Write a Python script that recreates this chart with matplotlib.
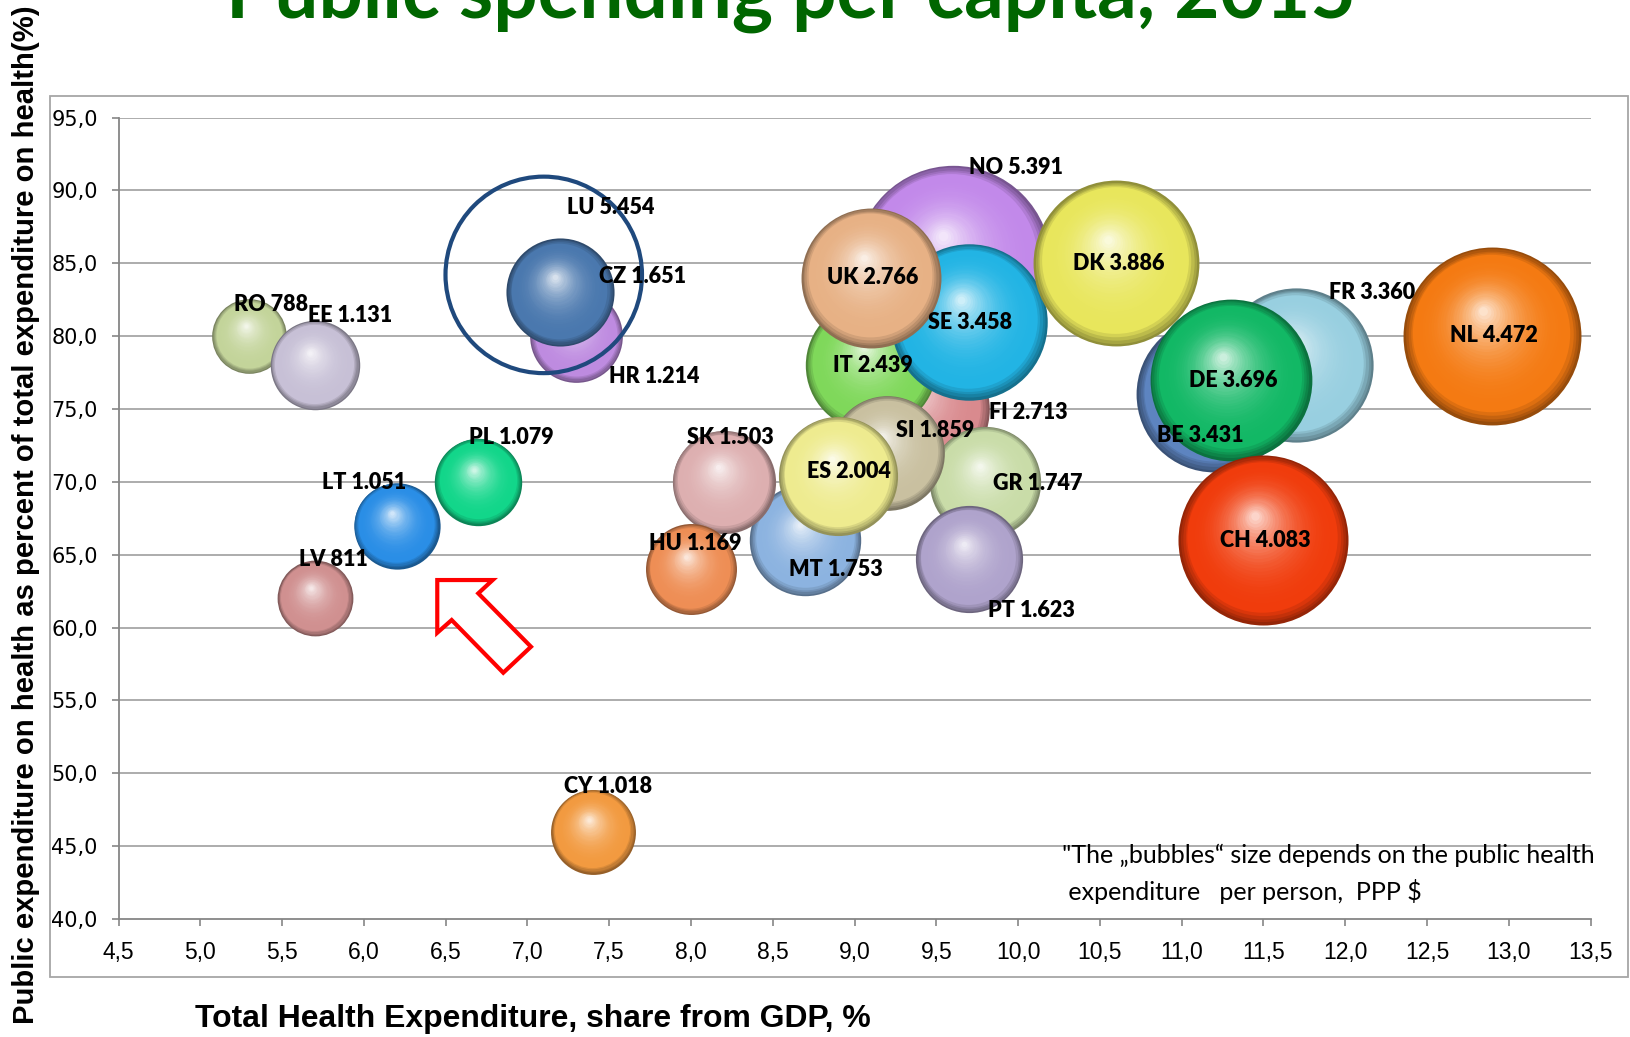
import numpy as np
import matplotlib
matplotlib.use("Agg")
import matplotlib.pyplot as plt
from matplotlib.transforms import ScaledTranslation
from matplotlib.colors import to_rgb
from matplotlib.patches import Polygon, Rectangle

# ---------------- data (drawing order) ----------------
countries = ["NO", "FI", "IT", "SE", "UK", "DK", "FR", "BE", "DE", "CH", "NL",
             "GR", "SI", "MT", "SK", "HU", "ES", "PT", "HR", "CZ", "RO", "EE",
             "LT", "PL", "LV", "CY", "LU"]
gdp_share = [9.6, 9.4, 9.1, 9.7, 9.1, 10.6, 11.7, 11.2, 11.3, 11.5, 12.9,
             9.8, 9.2, 8.7, 8.2, 8.0, 8.9, 9.7, 7.3, 7.2, 5.3, 5.7,
             6.2, 6.7, 5.7, 7.4, 7.1]
public_share = [85.0, 75.0, 78.0, 81.0, 84.0, 85.0, 78.0, 76.0, 77.0, 66.0, 80.0,
                70.0, 72.0, 66.0, 70.0, 64.0, 70.4, 64.7, 80.0, 83.0, 80.0, 78.0,
                67.0, 70.0, 62.0, 46.0, 84.2]
spend_pc = [5391, 2713, 2439, 3458, 2766, 3886, 3360, 3431, 3696, 4083, 4472,
            1747, 1859, 1753, 1503, 1169, 2004, 1623, 1214, 1651, 788, 1131,
            1051, 1079, 811, 1018, 5454]
value_labels = ["5.391", "2.713", "2.439", "3.458", "2.766", "3.886", "3.360",
                "3.431", "3.696", "4.083", "4.472", "1.747", "1.859", "1.753",
                "1.503", "1.169", "2.004", "1.623", "1.214", "1.651", "788",
                "1.131", "1.051", "1.079", "811", "1.018", "5.454"]

x_ticks = [4.5 + 0.5 * i for i in range(19)]
y_ticks = [40 + 5 * i for i in range(12)]

title_text = "Public spending per capita, 2015"
x_title = "Total Health Expenditure, share from GDP, %"
y_title = "Public expenditure on health as percent of total expenditure on health(%)"
note_lines = ["\"The \u201ebubbles\u201c size depends on the public health",
              " expenditure   per person,  PPP $"]

# ---------------- styles ----------------
colors = {
    "NO": "#C289EA", "SE": "#22B4E4", "UK": "#E7B185", "DK": "#E8E65C",
    "IT": "#7FD85A", "FI": "#D98A8E", "SI": "#C9C0A0", "GR": "#C9DCA8",
    "ES": "#EEEB8F", "MT": "#8CB3E0", "SK": "#DDAFB0", "HU": "#EE8E55",
    "PT": "#AFA3CC", "FR": "#98CFE0", "BE": "#5D84C0", "DE": "#12B865",
    "CH": "#F03C0C", "NL": "#F47A12", "HR": "#BE8BE0", "CZ": "#4A78AE",
    "RO": "#C3D49A", "EE": "#C7C0D6", "LT": "#2A8EE6", "PL": "#12D68A",
    "LV": "#D09090", "CY": "#F29A40", "LU": "#1F497D",
}
outline_only = {"LU"}
# label offsets from bubble centre, in points
label_off = {
    "RO": (15.7, 22.4), "EE": (25.4, 35.9), "LU": (48.3, 48.6), "CZ": (59.5, 11.2),
    "HR": (55.7, -29.2), "PL": (23.6, 32.2), "LT": (-23.6, 30.7), "LV": (13.5, 27.7),
    "CY": (10.8, 32.2), "HU": (3.0, 18.7), "SK": (4.5, 32.2), "MT": (22.1, -21.0),
    "ES": (7.9, 3.0), "SI": (34.8, 15.7), "GR": (37.9, -1.1), "PT": (45.3, -36.8),
    "IT": (1.3, -0.5), "UK": (1.0, 0.0), "SE": (0.5, -1.0), "NO": (45.7, 69.0),
    "FI": (78.3, -2.7), "DK": (1.5, 0.0), "FR": (54.4, 52.6), "BE": (-10.2, -29.7),
    "DE": (1.8, -0.5), "CH": (1.6, -0.4), "NL": (1.4, 0.2),
}
SIZE_K = 3.67  # points^2 per unit of spending

W, H = 1630, 1037
fig = plt.figure(figsize=(W / 100, H / 100), dpi=100)
fig.patch.set_facecolor("white")

# outer chart-area frame
fig.add_artist(Rectangle((50 / W, 1 - 977 / H), (1628 - 50) / W, (977 - 95.6) / H,
                         transform=fig.transFigure, fill=False,
                         edgecolor="#A6A6A6", lw=1.3, zorder=0))

ax = fig.add_axes([118.5 / W, 1 - 919 / H, (1590.5 - 118.5) / W, (919 - 117.5) / H])
ax.set_facecolor("none")
ax.set_xlim(4.5, 13.5)
ax.set_ylim(40, 95)
for s in ["top", "right"]:
    ax.spines[s].set_visible(False)
for s in ["left", "bottom"]:
    ax.spines[s].set_color("#868686")
    ax.spines[s].set_linewidth(1.3)
ax.set_xticks(x_ticks)
ax.set_xticklabels([f"{v:.1f}".replace(".", ",") for v in x_ticks],
                   fontfamily="Liberation Sans")
ax.set_yticks(y_ticks)
ax.set_yticklabels([f"{v:.1f}".replace(".", ",") for v in y_ticks],
                   fontfamily="DejaVu Sans")
ax.tick_params(axis="x", length=5, width=1.2, color="#868686", pad=11, labelsize=16.5)
ax.tick_params(axis="y", length=5, width=1.2, color="#868686", pad=10, labelsize=15)
for yv in y_ticks[1:]:
    ax.axhline(yv, color="#A6A6A6", lw=1.3, zorder=0.5)


def sphere(x, y, s, color, z):
    R = np.sqrt(s) / 2.0
    base = np.array(to_rgb(color))
    N = 34
    for i in range(N):
        t = i / (N - 1)
        rad = R * (1 - 0.95 * t)
        ox, oy = -0.10 * R * t, 0.28 * R * t
        if t < 0.12:
            c = base * (0.62 + 0.38 * (t / 0.12))
        else:
            u = (t - 0.12) / 0.88
            c = base + (1 - base) * (0.78 * u ** 2.4)
        tr = ax.transData + ScaledTranslation(ox / 72, oy / 72, fig.dpi_scale_trans)
        ax.scatter([x], [y], s=(2 * rad) ** 2, color=[np.clip(c, 0, 1)], lw=0,
                   transform=tr, zorder=z + i * 0.001)


for k, c in enumerate(countries):
    s = spend_pc[k] * SIZE_K
    if c in outline_only:
        ax.scatter([gdp_share[k]], [public_share[k]], s=s, facecolors="none",
                   edgecolors=colors[c], linewidths=3.0, zorder=2 + k * 0.05)
    else:
        sphere(gdp_share[k], public_share[k], s, colors[c], 2 + k * 0.05)

for k, c in enumerate(countries):
    dx, dy = label_off[c]
    ax.annotate(f"{c} {value_labels[k]}", (gdp_share[k], public_share[k]),
                xytext=(dx, dy), textcoords="offset points", ha="center",
                va="center", fontsize=15.5, fontweight="heavy",
                fontfamily=["Lato", "DejaVu Sans"], color="black", zorder=10)

# red hollow arrow (offsets in full-size pixels from its tip)
tip = (6.449, 63.26)
arrow_px = [(0, 0), (55.4, 0), (41, 13.3), (93.7, 66.7), (66, 92.7), (14.4, 40), (0, 52.7)]
arr_tr = fig.dpi_scale_trans + ScaledTranslation(tip[0], tip[1], ax.transData)
ax.add_patch(Polygon([(px / 100, -py / 100) for px, py in arrow_px], closed=True,
                     transform=arr_tr, facecolor="white", edgecolor="#FF0000",
                     lw=3.0, joinstyle="miter", zorder=11))

renderer = fig.canvas.get_renderer()


def fit(t, target, vertical=False):
    bb = t.get_window_extent(renderer=renderer)
    cur = bb.height if vertical else bb.width
    t.set_fontsize(t.get_fontsize() * target / cur)


tt = fig.text(791 / W, 1 - 18 / H, title_text, ha="center", va="baseline",
              fontsize=50, fontweight="bold", color="#006600",
              fontfamily=["Lato", "DejaVu Sans"])
fit(tt, 1132)

yl = fig.text(26 / W, 1 - 514.5 / H, y_title, rotation=90, ha="center", va="center",
              fontsize=18, fontweight="bold", fontfamily="Liberation Sans")
fit(yl, 1019, vertical=True)

xl = fig.text(532.5 / W, 1 - 1019 / H, x_title, ha="center", va="center",
              fontsize=18, fontweight="bold", fontfamily="Liberation Sans")
fit(xl, 677)

n1 = fig.text(1062 / W, 1 - 855 / H, note_lines[0], ha="left", va="center",
              fontsize=15, fontfamily=["Lato", "DejaVu Sans"])
fit(n1, 534)
n2 = fig.text(1062 / W, 1 - 891 / H, note_lines[1], ha="left", va="center",
              fontsize=n1.get_fontsize(), fontfamily=["Lato", "DejaVu Sans"])

fig.savefig("out.png", dpi=100, facecolor="white")
